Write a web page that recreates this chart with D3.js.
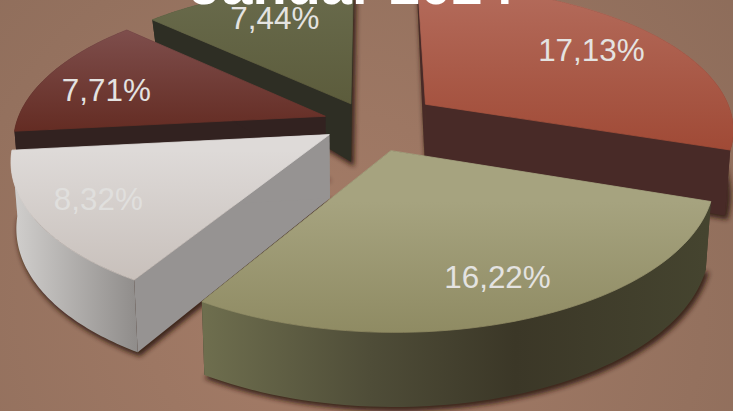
<!DOCTYPE html>
<html>
<head>
<meta charset="utf-8">
<script src="https://cdn.jsdelivr.net/npm/d3@7"></script>
<style>
  html, body { margin: 0; padding: 0; overflow: hidden; background: #9d7a66; }
  svg { display: block; }
  text { font-family: "Liberation Sans", Arial, sans-serif; }
</style>
</head>
<body>
<div id="chart"></div>
<script>
const title = "Januar 2024";
const shares = [17.13, 16.22, 8.32, 7.71, 7.44];
const shareLabels = ["17,13%", "16,22%", "8,32%", "7,71%", "7,44%"];

// 3D look of each slice, same order as shares
const explode = [0.23, 0.2, 0.15, 0.15, 0.15];
const labelNudge = [[-7, 3], [8, 2], [-10, 0], [-5, 7], [6, 1]];
const topColors = [
    ["#b46c5c", "#a04a36"],
    ["#a6a37f", "#8f8b63"],
    ["#dedad8", "#c8c0bb"],
    ["#7e4e4c", "#642c23"],
    ["#696b4c", "#5c5c3c"]
];
const sideColors = ["#482a27", "#3e3a2a", "#969392", "#322220", "#2e2e24"];
const rimStops = [
    [["0", "#482a27"], ["1", "#482a27"]],
    [["0", "#6e6e4e"], ["0.33", "#4f4d38"], ["0.62", "#3b3727"], ["1", "#45442f"]],
    [["0", "#cfcdcb"], ["1", "#8f8c8a"]],
    [["0", "#322220"], ["1", "#322220"]],
    [["0", "#2e2e24"], ["1", "#2e2e24"]]
];

const width = 733;
const height = 411;
const cx = 369;
const cy = 123;
const radius = 309;
const tilt = 0.462;
const perspective = 0.16;
const labelRadius = 0.77;

// wall height gets smaller toward the back of the pie
const wallHeight = d3.scaleLinear().domain([-0.9, -0.1, 0.2, 1]).range([21, 60, 66, 73]);

const svg = d3.select("#chart").append("svg")
    .attr("width", width)
    .attr("height", height)
    .attr("viewBox", `0 0 ${width} ${height}`);
const defs = svg.append("defs");

const bg = defs.append("radialGradient").attr("id", "bg")
    .attr("gradientUnits", "userSpaceOnUse")
    .attr("cx", 330).attr("cy", 300).attr("r", 560);
bg.append("stop").attr("offset", "0").attr("stop-color", "#a67d68");
bg.append("stop").attr("offset", "1").attr("stop-color", "#8b6b59");

defs.append("filter").attr("id", "blur")
    .attr("x", "-10%").attr("y", "-10%").attr("width", "120%").attr("height", "120%")
    .append("feGaussianBlur").attr("stdDeviation", 2.6);

svg.append("rect").attr("width", width).attr("height", height).attr("fill", "url(#bg)");

function project(u, v) {
    const s = 1 / (1 - perspective * v);
    return [cx + u * radius * s, cy + v * radius * tilt * s];
}

function lower(p, v) {
    return [cx + (p[0] - cx) * 0.985, p[1] + wallHeight(v)];
}

const pie = d3.pie().sort(null).value(d => d);
const line = d3.line();

const slices = pie(shares).map((d, i) => {
    const mid = (d.startAngle + d.endAngle) / 2 - Math.PI / 2;
    const ou = Math.cos(mid) * explode[i];
    const ov = Math.sin(mid) * explode[i];
    const angles = d3.range(0, 61).map(k =>
        d.startAngle - Math.PI / 2 + (d.endAngle - d.startAngle) * k / 60);
    const rim = angles.map(a => {
        const u = ou + Math.cos(a);
        const v = ov + Math.sin(a);
        const top = project(u, v);
        return { top, bottom: lower(top, v) };
    });
    const apex = project(ou, ov);
    const apexBottom = lower(apex, ov);
    const label = project(ou + Math.cos(mid) * labelRadius, ov + Math.sin(mid) * labelRadius);
    return { i, mid, rim, apex, apexBottom, label };
});

// back slices first
const ordered = slices.slice().sort((a, b) => Math.sin(a.mid) - Math.sin(b.mid));

ordered.forEach(s => {
    const g = svg.append("g");
    const rimTop = s.rim.map(r => r.top);
    const rimBottom = s.rim.map(r => r.bottom);
    const first = s.rim[0];
    const last = s.rim[s.rim.length - 1];

    const topGrad = defs.append("linearGradient").attr("id", `top${s.i}`)
        .attr("gradientUnits", "userSpaceOnUse")
        .attr("x1", 0).attr("x2", 0)
        .attr("y1", d3.min(rimTop, p => p[1]))
        .attr("y2", d3.max(rimTop.concat([s.apex]), p => p[1]));
    topGrad.append("stop").attr("offset", "0").attr("stop-color", topColors[s.i][0]);
    topGrad.append("stop").attr("offset", "1").attr("stop-color", topColors[s.i][1]);

    const rimGrad = defs.append("linearGradient").attr("id", `rim${s.i}`)
        .attr("gradientUnits", "userSpaceOnUse")
        .attr("y1", 0).attr("y2", 0)
        .attr("x1", d3.min(rimBottom, p => p[0]))
        .attr("x2", d3.max(rimBottom, p => p[0]));
    rimStops[s.i].forEach(st => {
        rimGrad.append("stop").attr("offset", st[0]).attr("stop-color", st[1]);
    });

    // blurred shadow of the bottom face
    g.append("path")
        .attr("d", line([s.apexBottom].concat(rimBottom)) + "Z")
        .attr("transform", "translate(2,3)")
        .attr("fill", "#2c1710")
        .attr("stroke", "#2c1710")
        .attr("stroke-width", 2)
        .attr("opacity", 0.85)
        .attr("filter", "url(#blur)");

    // flat cut sides
    [first, last].forEach(r => {
        g.append("path")
            .attr("d", line([s.apex, r.top, r.bottom, s.apexBottom]) + "Z")
            .attr("fill", sideColors[s.i]);
    });

    // curved outside wall
    g.append("path")
        .attr("d", line(rimTop.concat(rimBottom.slice().reverse())) + "Z")
        .attr("fill", `url(#rim${s.i})`);

    // stroke hides the dark hairline the walls leave round the top face
    g.append("path")
        .attr("d", line([s.apex].concat(rimTop)) + "Z")
        .attr("fill", `url(#top${s.i})`)
        .attr("stroke", `url(#top${s.i})`)
        .attr("stroke-width", 0.8);
});

svg.append("g").selectAll("text").data(slices).enter().append("text")
    .attr("x", d => d.label[0] + labelNudge[d.i][0])
    .attr("y", d => d.label[1] + labelNudge[d.i][1])
    .attr("dy", "0.35em")
    .attr("text-anchor", "middle")
    .attr("font-size", 31.4)
    .attr("fill", d => d.i === 2 ? "#e0dfdd" : "#e4e3e1")
    .text(d => shareLabels[d.i]);

svg.append("text")
    .attr("x", 352)
    .attr("y", 4)
    .attr("text-anchor", "middle")
    .attr("font-size", 56)
    .attr("font-weight", "bold")
    .attr("fill", "#ffffff")
    .text(title);
</script>
</body>
</html>
